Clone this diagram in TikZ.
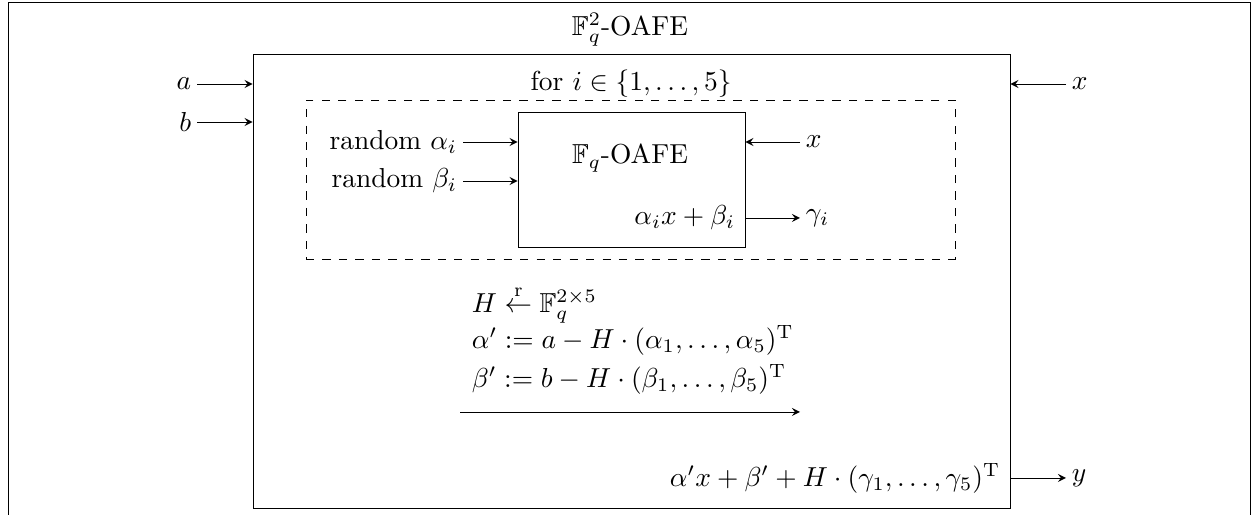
\documentclass[tikz,border=0pt]{standalone}
\usepackage{amsmath}
\usepackage{amssymb}
\usetikzlibrary{fit}

\begin{document}
\begin{tikzpicture}[x=0.0128cm, y=-0.0128cm, >=stealth, line width=0.3pt,
        box/.style={draw, inner sep=0pt},
        lbl/.style={inner sep=2pt}]
        \useasboundingbox (0,0) rectangle (1258,515);
        % page frame, cut at the bottom
        \draw (8,560) -- (8,2) -- (1250,2) -- (1250,560);

        \node[box, fit={(253,54) (1010,508)}] (outer) {};
        \node[box, dashed, fit={(306,100) (955,259)}] (loop) {};
        \node[box, fit={(518,112) (745,247)}] (inner) {};

        \node (title) at (630,30) {$\mathbb{F}_q^2$-OAFE};
        \node (for) at (631,84) {for $i \in \{1,\dots,5\}$};
        \node (name) at (630,158) {$\mathbb{F}_q$-OAFE};
        \node[lbl, anchor=east] (res) at (741,218) {$\alpha_i x + \beta_i$};

        \node[lbl, anchor=east] (a) at (197,84) {$a$};
        \node[lbl, anchor=east] (b) at (197,122) {$b$};
        \node[lbl, anchor=west] (xout) at (1066,84) {$x$};
        \node[lbl, anchor=west] (y) at (1066,478) {$y$};
        \node[lbl, anchor=east] (alpha) at (463,142) {random $\alpha_i$};
        \node[lbl, anchor=east] (beta) at (463,181) {random $\beta_i$};
        \node[lbl, anchor=west] (xin) at (800,142) {$x$};
        \node[lbl, anchor=west] (gamma) at (800,218) {$\gamma_i$};
        \node[lbl, anchor=east] (sum) at (1006,478) {$\alpha' x + \beta' + H \cdot (\gamma_1,\dots,\gamma_5)^{\mathrm{T}}$};

        \coordinate (send) at (460,412);
        \coordinate (recv) at (800,412);
        \node[lbl, anchor=south west, align=left] (msg) at (466,400) {$H \stackrel{\mathrm{r}}{\leftarrow} \mathbb{F}_q^{2\times 5}$\\[0pt]
            $\alpha' := a - H \cdot (\alpha_1,\dots,\alpha_5)^{\mathrm{T}}$\\[2pt]
            $\beta' := b - H \cdot (\beta_1,\dots,\beta_5)^{\mathrm{T}}$};

        \draw[->] (a) -- (a -| outer.west);
        \draw[->] (b) -- (b -| outer.west);
        \draw[->] (xout) -- (xout -| outer.east);
        \draw[->] (y -| outer.east) -- (y);
        \draw[->] (alpha) -- (alpha -| inner.west);
        \draw[->] (beta) -- (beta -| inner.west);
        \draw[->] (xin) -- (xin -| inner.east);
        \draw[->] (gamma -| inner.east) -- (gamma);
        \draw[->] (send) -- (recv);
    \end{tikzpicture}
\end{document}
